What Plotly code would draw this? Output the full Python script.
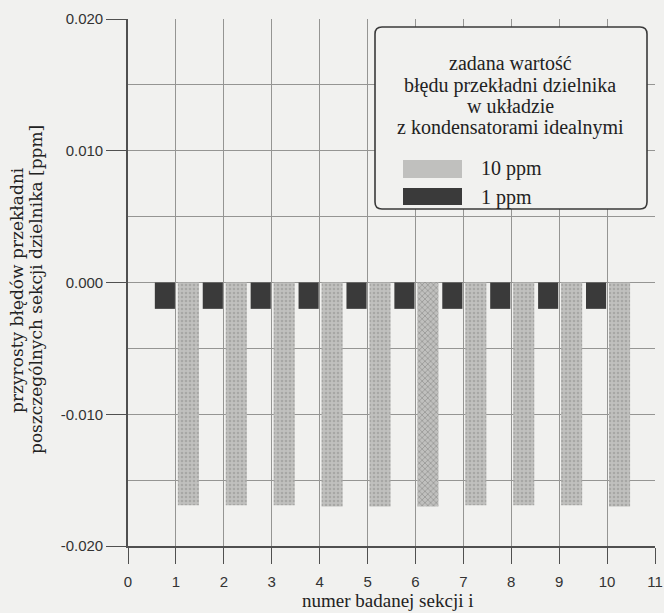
import plotly.graph_objects as go

# ---- data ----
sections = [1, 2, 3, 4, 5, 6, 7, 8, 9, 10]
err_10ppm = [-0.0169, -0.0169, -0.0169, -0.0170, -0.0170, -0.0170, -0.0169, -0.0169, -0.0169, -0.0170]
err_1ppm = [-0.0020, -0.0020, -0.0020, -0.0020, -0.0020, -0.0020, -0.0020, -0.0020, -0.0020, -0.0020]
x_tick_vals = [0, 1, 2, 3, 4, 5, 6, 7, 8, 9, 10, 11]
x_tick_labels = ["0", "1", "2", "3", "4", "5", "6", "7", "8", "9", "10", "11"]
y_tick_vals = [-0.02, -0.01, 0.0, 0.01, 0.02]
y_tick_labels = ["-0.020", "-0.010", "0.000", "0.010", "0.020"]
legend_title_lines = ["zadana wartość", "błędu przekładni dzielnika", "w układzie", "z kondensatorami idealnymi"]
y_title_lines = ["przyrosty błędów przekładni", "poszczególnych sekcji dzielnika [ppm]"]
x_title = "numer badanej sekcji i"
name_10 = "10 ppm"
name_1 = "1 ppm"

BG = "#f1f1ef"
LIGHT = "#c0c0be"
DARK = "#3a3a3a"
GRID = "#959593"
AXIS = "#505050"
SERIF = "Liberation Serif, Times New Roman, serif"
WSERIF = "DejaVu Serif, serif"
SANS = "Liberation Sans, Arial, sans-serif"

W, H = 664, 613
L, R, T, B = 128, 9, 19, 67
pw, ph = W - L - R, H - T - B


def px(xp):
    return (xp - L) / pw


def py(yp):
    return (H - B - yp) / ph


fig = go.Figure()
pat_shapes = ["." if s != 6 else "x" for s in sections]
pat_fg = ["#8e8e8c" if s != 6 else "#6a6a68" for s in sections]
fig.add_trace(go.Bar(
    x=sections, y=err_1ppm, name=name_1, width=0.42, offset=-0.44,
    marker=dict(color=DARK, line=dict(width=0)), showlegend=False,
))
fig.add_trace(go.Bar(
    x=sections, y=err_10ppm, name=name_10, width=0.44, offset=0.04,
    marker=dict(color=LIGHT, line=dict(width=0),
                pattern=dict(shape=pat_shapes, fgcolor=pat_fg, size=4, solidity=0.35)),
    showlegend=False,
))

fig.update_layout(
    width=W, height=H,
    margin=dict(l=L, r=R, t=T, b=B, pad=0, autoexpand=False),
    paper_bgcolor=BG, plot_bgcolor=BG,
    barmode="overlay",
    font=dict(family=SANS, size=15, color="#333333"),
    xaxis=dict(
        range=[0, 11], tickvals=x_tick_vals, ticktext=x_tick_labels,
        ticks="outside", ticklen=16, tickcolor=AXIS, tickwidth=1.2,
        ticklabelstandoff=5,
        showgrid=True, gridcolor=GRID, gridwidth=1,
        showline=True, linecolor=AXIS, linewidth=1.6, automargin=False,
        zeroline=False, tickfont=dict(family=SANS, size=15, color="#333333"),
    ),
    yaxis=dict(
        range=[-0.02, 0.02], tickvals=y_tick_vals, ticktext=y_tick_labels,
        ticks="outside", ticklen=20, tickcolor=AXIS, tickwidth=1.2,
        showgrid=True, gridcolor=GRID, gridwidth=1,
        minor=dict(dtick=0.005, tick0=0, showgrid=True, gridcolor=GRID, gridwidth=1, ticks=""),
        showline=True, linecolor=AXIS, linewidth=1.6, automargin=False,
        zeroline=False, tickfont=dict(family=SANS, size=15, color="#333333"),
    ),
)

# axis titles
fig.add_annotation(
    text=x_title, xref="paper", yref="paper",
    x=px(387), y=py(600), xanchor="center", yanchor="middle", showarrow=False,
    font=dict(family=SERIF, size=19, color="#222222"),
)
for xc, line in zip([17, 36], y_title_lines):
    fig.add_annotation(
        text=line, xref="paper", yref="paper", x=px(xc), y=py(290), textangle=-90,
        xanchor="center", yanchor="middle",
        showarrow=False, font=dict(family=WSERIF, size=17, color="#222222"),
    )

# legend box (rounded)
x0, x1, y0, y1 = px(375), px(647), py(209), py(27)
rx, ry = 7 / pw, 7 / ph
path = (f"M {x0+rx},{y1} L {x1-rx},{y1} Q {x1},{y1} {x1},{y1-ry} "
        f"L {x1},{y0+ry} Q {x1},{y0} {x1-rx},{y0} L {x0+rx},{y0} "
        f"Q {x0},{y0} {x0},{y0+ry} L {x0},{y1-ry} Q {x0},{y1} {x0+rx},{y1} Z")
fig.add_shape(type="path", path=path, xref="paper", yref="paper",
              line=dict(color="#3a3a3a", width=1.6), fillcolor=BG, layer="above")
for yc, line in zip([63, 85, 106, 128], legend_title_lines):
    fig.add_annotation(
        text=line, xref="paper", yref="paper", x=px(510), y=py(yc),
        xanchor="center", yanchor="middle", showarrow=False,
        font=dict(family=SERIF, size=20, color="#222222"),
    )
fig.add_shape(type="rect", xref="paper", yref="paper",
              x0=px(403), x1=px(462), y0=py(178), y1=py(160),
              fillcolor=LIGHT, line=dict(width=0), layer="above")
fig.add_shape(type="rect", xref="paper", yref="paper",
              x0=px(403), x1=px(462), y0=py(205), y1=py(188),
              fillcolor=DARK, line=dict(width=0), layer="above")
fig.add_annotation(text=name_10, xref="paper", yref="paper", x=px(479), y=py(168),
                   xanchor="left", yanchor="middle", showarrow=False,
                   font=dict(family=SERIF, size=20, color="#222222"))
fig.add_annotation(text=name_1, xref="paper", yref="paper", x=px(479), y=py(197),
                   xanchor="left", yanchor="middle", showarrow=False,
                   font=dict(family=SERIF, size=20, color="#222222"))

fig.write_html("out.html", config={"displayModeBar": False},
               post_script="document.body.style.margin='0px';document.body.style.overflow='hidden';")
